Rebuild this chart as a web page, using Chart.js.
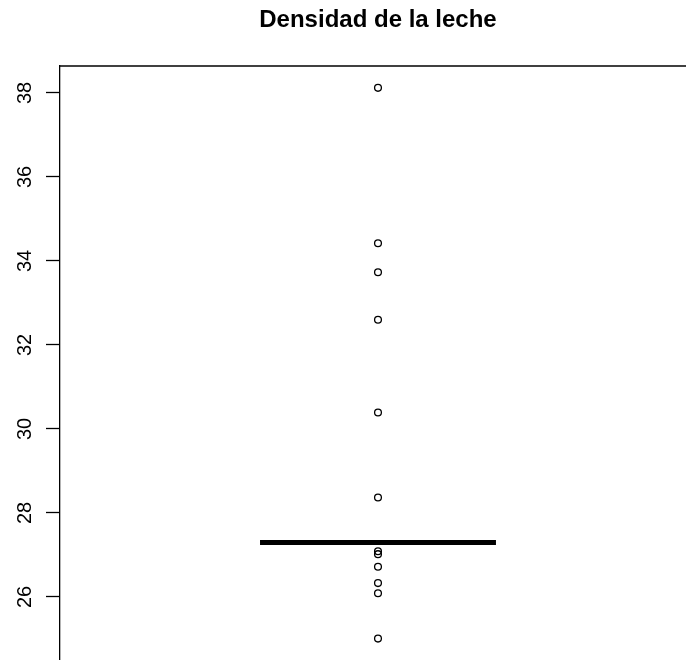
<!DOCTYPE html>
<html lang="es">
<head>
<meta charset="utf-8">
<title>Densidad de la leche</title>
<script src="https://cdn.jsdelivr.net/npm/chart.js@4.4.1/dist/chart.umd.min.js"></script>
<style>
  html, body { margin: 0; padding: 0; background: #ffffff; }
  #wrap { width: 686px; height: 660px; overflow: hidden; }
</style>
</head>
<body>
<div id="wrap"><canvas id="chart" width="686" height="660"></canvas></div>
<script>
// Boxplot of milk density: the box collapses onto the median, so only
// the median bar and the outlying observations are visible.
const TITLE = "Densidad de la leche";
const Y_TICKS = [26, 28, 30, 32, 34, 36, 38];
const MEDIAN = 27.3;
const OUTLIERS = [38.12, 34.42, 33.73, 32.6, 30.39, 28.37, 27.09, 27.02, 26.72, 26.33, 26.09, 25.01];
const GROUP_X = 1;          // position of the single box on the x axis
const BOX_HALF_WIDTH = 0.1855;
const Y_RANGE = [24.5, 38.64];
const X_RANGE = [0.5, 1.4843];

const FONT = "'Liberation Sans', Arial, Helvetica, sans-serif";

// Title centred over the box, plus the top frame line of the plot region
const framePlugin = {
  id: 'frameAndTitle',
  afterDraw(chart) {
    const { ctx, chartArea, scales } = chart;
    ctx.save();
    ctx.strokeStyle = '#000';
    ctx.lineWidth = 1.3;
    ctx.beginPath();
    ctx.moveTo(chartArea.left, chartArea.top);
    ctx.lineTo(chart.width, chartArea.top);
    ctx.stroke();
    ctx.fillStyle = '#000';
    ctx.font = "bold 24px " + FONT;
    ctx.textAlign = 'center';
    ctx.textBaseline = 'alphabetic';
    ctx.fillText(TITLE, scales.x.getPixelForValue(GROUP_X), 27);
    ctx.restore();
  }
};

const medianLine = [
  { x: GROUP_X - BOX_HALF_WIDTH, y: MEDIAN },
  { x: GROUP_X + BOX_HALF_WIDTH, y: MEDIAN }
];
const outlierPoints = OUTLIERS.map(v => ({ x: GROUP_X, y: v }));

new Chart(document.getElementById('chart'), {
  type: 'scatter',
  data: {
    datasets: [
      {
        label: 'Mediana',
        type: 'line',
        data: medianLine,
        borderColor: '#000',
        borderWidth: 5,
        pointRadius: 0,
        borderCapStyle: 'butt',
        fill: false
      },
      {
        label: 'Atípicos',
        data: outlierPoints,
        pointStyle: 'circle',
        pointRadius: 3.4,
        pointBorderWidth: 1.3,
        borderColor: '#000',
        backgroundColor: 'rgba(255,255,255,0)',
        pointHoverRadius: 3.4
      }
    ]
  },
  options: {
    responsive: false,
    animation: false,
    layout: { autoPadding: false, padding: { top: 66, right: 0, bottom: 0, left: 0 } },
    plugins: {
      legend: { display: false },
      title: { display: false },
      tooltip: { enabled: false }
    },
    scales: {
      x: {
        type: 'linear',
        display: false,
        min: X_RANGE[0],
        max: X_RANGE[1]
      },
      y: {
        type: 'linear',
        min: Y_RANGE[0],
        max: Y_RANGE[1],
        afterBuildTicks(scale) {
          scale.ticks = Y_TICKS.map(v => ({ value: v }));
        },
        afterFit(scale) {
          scale.width = 60;
          scale.paddingTop = 0;
          scale.paddingBottom = 0;
        },
        border: { display: true, color: '#000', width: 1.3 },
        grid: {
          drawOnChartArea: false,
          drawTicks: true,
          tickLength: 14,
          tickColor: '#000',
          tickWidth: 1.3
        },
        ticks: {
          minRotation: 90,
          maxRotation: 90,
          crossAlign: 'center',
          padding: 9,
          color: '#000',
          font: { family: FONT, size: 20 },
          callback: v => String(v)
        }
      }
    }
  },
  plugins: [framePlugin]
});
</script>
</body>
</html>
